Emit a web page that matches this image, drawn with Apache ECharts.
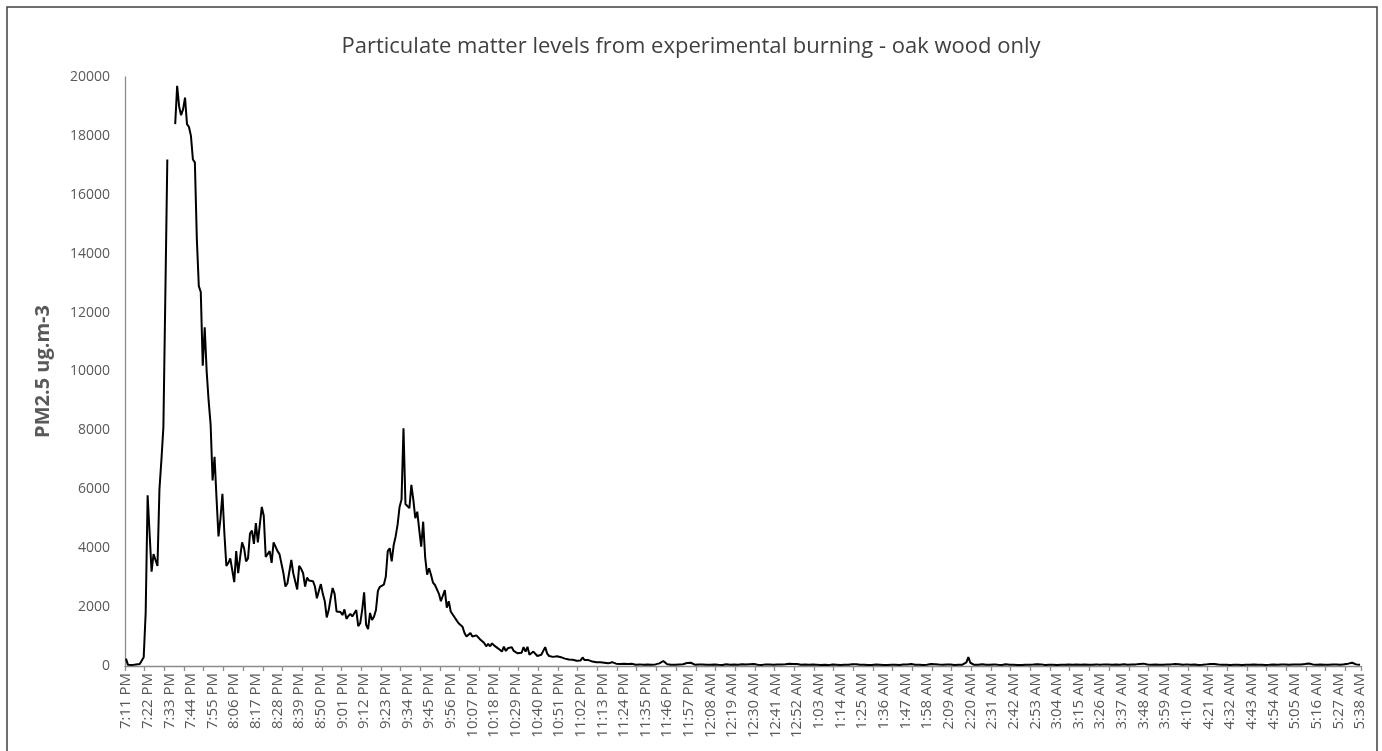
<!DOCTYPE html>
<html>
<head>
<meta charset="utf-8">
<title>PM2.5 - oak wood burn</title>
<script src="https://cdn.jsdelivr.net/npm/echarts@6/dist/echarts.min.js"></script>
<style>
  html, body { margin: 0; padding: 0; background: #fff; }
  #chart { width: 1382px; height: 751px; }
</style>
</head>
<body>
<div id="chart"></div>
<script>
// One PM2.5 reading per minute, starting at 7:11 PM.
const startTime = { hour: 19, minute: 11 };

// 7:11 PM - 8:00 PM: ignition and first peak (blank minutes were not logged)
const pmRise = [
  250, 40, 20, 30, 40, 50, 60, 70, 80, 300,
  1800, 5800, 5800, 3200, 3800, 3600, 3400, 6000, 7000, 8100,
  12600, 17200, null, null, null, 18400, 19700, 19000, 18700, 18900,
  19300, 18400, 18300, 18000, 17200, 17100, 14500, 12900, 12700, 10200,
  11500, 10000, 9000, 8200, 6300, 7100, 5700, 4400, 5000, 5850
];

// 8:01 PM - 9:21 PM: smouldering plateau
const pmFirstDecay = [
  4500, 3400, 3500, 3650, 3600, 2850, 3900, 3150, 3700, 4200,
  4000, 3550, 3650, 4500, 4600, 4150, 4850, 4200, 4800, 5400,
  5100, 3700, 3750, 3900, 3500, 4200, 4150, 3900, 3800, 3750,
  3150, 2700, 2800, 3200, 3600, 3150, 3100, 2600, 3400, 3300,
  3150, 2700, 3000, 2900, 2920, 2880, 2700, 2300, 2550, 2780,
  2450, 2200, 1650, 1900, 2300, 2650, 2450, 1850, 1850, 1830,
  1730, 1920, 1600, 1700, 1770, 1680, 1790, 1900, 1350, 1450,
  1900, 2500, 1400, 1250, 1800, 1560, 1670, 1900, 2550, 2690,
  2700
];

// 9:22 PM - 11:21 PM: refuelling peak and decay
const pmSecondPeak = [
  2760, 3030, 3900, 4000, 3550, 4100, 4400, 4800, 5400, 5650,
  8070, 5500, 5530, 5360, 6150, 5640, 5020, 5240, 4620, 4050,
  4900, 3700, 3100, 3320, 3090, 2830, 2750, 2600, 2450, 2200,
  2250, 2580, 1980, 2200, 1850, 1750, 1790, 1550, 1450, 1420,
  1330, 1120, 1000, 950, 1120, 1000, 1050, 1040, 970, 900,
  850, 780, 670, 750, 670, 770, 700, 640, 600, 540,
  490, 660, 510, 600, 540, 640, 510, 450, 430, 440,
  450, 640, 490, 650, 380, 420, 490, 430, 340, 360,
  380, 430, 640, 420, 340, 300, 310, 300, 330, 370,
  300, 280, 250, 240, 220, 200, 210, 190, 180, 170,
  190, 290, 200, 150, 200, 160, 150, 140, 130, 120,
  130, 110, 110, 100, 90, 110, 130, 100, 80, 70
];

// 11:22 PM - 5:38 AM: overnight background
const pmOvernight = [
  70, 60, 80, 55, 65, 50, 75, 60, 45, 70,
  55, 60, 40, 65, 50, 70, 45, 60, 55, 80,
  90, 140, 170, 110, 60, 50, 45, 60, 40, 55,
  50, 45, 60, 70, 100, 130, 110, 60, 45, 40,
  55, 40, 50, 35, 45, 60, 40, 70, 50, 45,
  40, 55, 35, 50, 60, 40, 45, 35, 55, 50,
  45, 40, 60, 50, 55, 70, 60, 85, 65, 45,
  40, 50, 35, 45, 55, 40, 50, 35, 45, 60,
  50, 40, 55, 45, 60, 80, 75, 60, 70, 95,
  70, 50, 45, 40, 55, 35, 45, 40, 50, 35,
  45, 40, 35, 50, 40, 45, 30, 40, 50, 35,
  45, 40, 35, 50, 40, 55, 45, 50, 60, 75,
  60, 45, 40, 35, 45, 40, 30, 45, 35, 40,
  50, 35, 40, 45, 30, 40, 35, 50, 40, 35,
  45, 40, 35, 40, 50, 60, 55, 45, 65, 55,
  40, 35, 45, 40, 30, 45, 40, 55, 65, 70,
  60, 45, 50, 60, 45, 40, 55, 45, 50, 40,
  35, 45, 40, 50, 45, 40, 120, 300, 110, 45,
  40, 35, 45, 50, 60, 45, 40, 35, 45, 40,
  55, 45, 40, 50, 35, 45, 60, 45, 40, 35,
  40, 45, 35, 40, 30, 45, 40, 35, 45, 40,
  50, 45, 60, 70, 55, 40, 35, 45, 40, 35,
  40, 45, 35, 50, 40, 35, 45, 40, 50, 55,
  45, 60, 55, 50, 45, 60, 50, 45, 40, 55,
  45, 50, 55, 45, 40, 50, 55, 45, 50, 40,
  45, 40, 50, 55, 45, 40, 60, 50, 45, 55,
  50, 45, 55, 60, 70, 65, 80, 60, 50, 45,
  40, 55, 50, 45, 40, 50, 45, 55, 50, 60,
  55, 65, 70, 85, 60, 45, 40, 50, 55, 45,
  40, 45, 50, 40, 35, 45, 40, 50, 55, 60,
  70, 80, 65, 55, 50, 45, 40, 50, 45, 40,
  35, 45, 40, 50, 45, 40, 35, 45, 40, 50,
  45, 55, 50, 45, 40, 50, 45, 40, 35, 45,
  40, 45, 50, 55, 45, 40, 50, 45, 55, 50,
  45, 50, 55, 60, 50, 45, 55, 60, 65, 75,
  85, 70, 55, 50, 45, 40, 50, 45, 40, 55,
  45, 40, 50, 45, 55, 50, 45, 40, 60, 70,
  80, 90, 110, 70, 55, 45, 40
];

const pm25 = [].concat(pmRise, pmFirstDecay, pmSecondPeak, pmOvernight);

// Clock-time label for every reading
function clockLabel(totalMinutes) {
  const m = totalMinutes % 1440;
  const h = Math.floor(m / 60);
  const mm = m % 60;
  const suffix = h >= 12 ? 'PM' : 'AM';
  const h12 = (h % 12) || 12;
  return h12 + ':' + (mm < 10 ? '0' : '') + mm + ' ' + suffix;
}
const startMinute = startTime.hour * 60 + startTime.minute;
const timeCategories = pm25.map((_, i) => clockLabel(startMinute + i));

const chartTitle = 'Particulate matter levels from experimental burning - oak wood only';
const yAxisTitle = 'PM2.5 ug.m-3';

const font = '"Open Sans", Lato, sans-serif';
const axisGrey = '#8c8c8c';
const textGrey = '#595959';

const chart = echarts.init(document.getElementById('chart'), null, { renderer: 'canvas' });
chart.setOption({
  animation: false,
  backgroundColor: '#ffffff',
  textStyle: { fontFamily: font },
  title: {
    text: chartTitle,
    left: 'center',
    top: 31,
    textStyle: { fontFamily: font, fontSize: 22, fontWeight: 'normal', color: '#404040' }
  },
  graphic: [{
    type: 'rect',
    silent: true,
    shape: { x: 7, y: 7, width: 1370, height: 770 },
    style: { fill: 'none', stroke: '#404040', lineWidth: 1.5 }
  }],
  grid: { left: 125, right: 21, top: 77, bottom: 85, containLabel: false },
  xAxis: {
    type: 'category',
    data: timeCategories,
    boundaryGap: true,
    axisLine: { lineStyle: { color: axisGrey, width: 1.3 } },
    axisTick: { show: true, interval: 9, length: 5, lineStyle: { color: axisGrey, width: 1.3 } },
    axisLabel: {
      interval: 10,
      rotate: 90,
      margin: 7,
      fontSize: 15,
      color: textGrey,
      fontFamily: font
    },
    splitLine: { show: false }
  },
  yAxis: {
    type: 'value',
    min: 0,
    max: 20000,
    interval: 2000,
    name: yAxisTitle,
    nameLocation: 'middle',
    nameRotate: 90,
    nameGap: 72,
    nameTextStyle: { fontFamily: font, fontSize: 20, fontWeight: 'bold', color: textGrey },
    axisLine: { show: true, lineStyle: { color: axisGrey, width: 1.3 } },
    axisTick: { show: false },
    axisLabel: {
      margin: 15,
      fontSize: 14,
      color: textGrey,
      fontFamily: font,
      formatter: (v) => String(v)
    },
    splitLine: { show: false }
  },
  series: [{
    type: 'line',
    data: pm25,
    showSymbol: false,
    connectNulls: false,
    lineStyle: { color: '#000000', width: 2 },
    itemStyle: { color: '#000000' }
  }]
});
</script>
</body>
</html>
